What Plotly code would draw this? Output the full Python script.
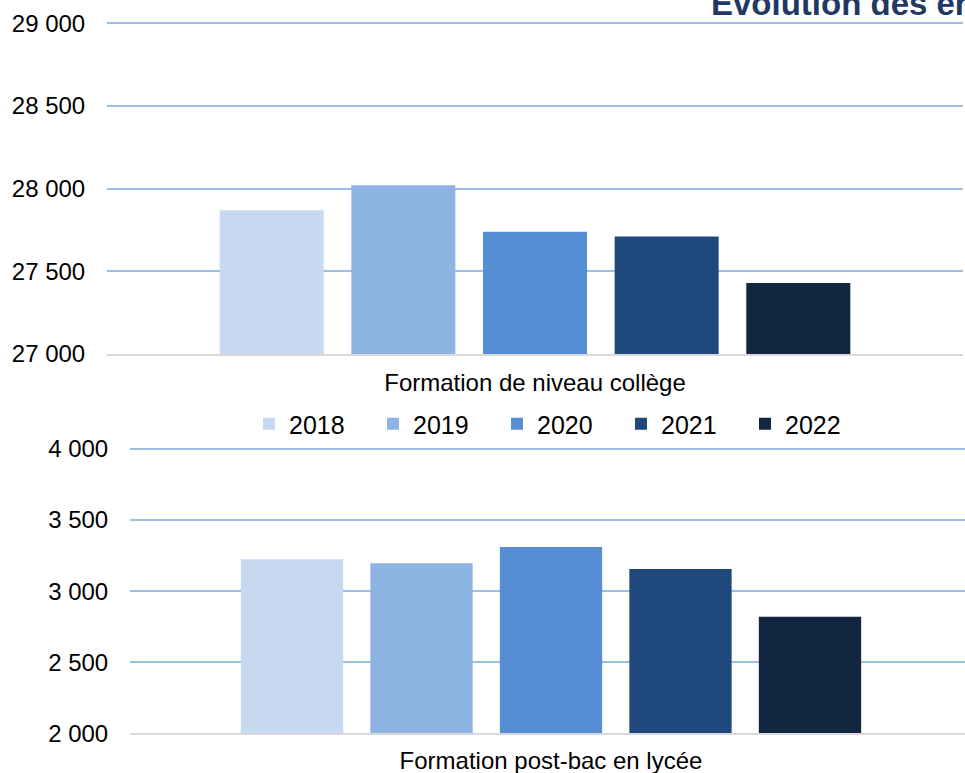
import plotly.graph_objects as go

# Effectifs par année de rentrée
years = ["2018", "2019", "2020", "2021", "2022"]
college = [27869, 28020, 27740, 27710, 27430]
postbac = [3224, 3197, 3311, 3155, 2820]

cat_college = ["Formation de niveau collège"]
cat_postbac = ["Formation post-bac en lycée"]

colors = ["#C6D9F0", "#8EB4E3", "#558ED5", "#1F497D", "#12263F"]

W, H = 965, 773
FONT = "Liberation Sans, Arial, sans-serif"
GRID = "#9BBDE6"
BASE = "#D9D9D9"

fig = go.Figure()
for i, y in enumerate(years):
    fig.add_trace(go.Bar(
        x=cat_college, y=[college[i]], name=y, marker_color=colors[i],
        marker_line_width=0, xaxis="x", yaxis="y", showlegend=True,
    ))
for i, y in enumerate(years):
    fig.add_trace(go.Bar(
        x=cat_postbac, y=[postbac[i]], name=y, marker_color=colors[i],
        marker_line_width=0, xaxis="x2", yaxis="y2", showlegend=False,
    ))

axis_font = dict(family=FONT, size=24, color="#000000")

# a few units of headroom keep the top gridline from being clipped
top_range = [27000, 29018]
bot_range = [2000, 4021]

fig.update_layout(
    width=W, height=H, autosize=False,
    margin=dict(l=0, r=0, t=0, b=0, autoexpand=False),
    paper_bgcolor="white", plot_bgcolor="white",
    barmode="group", bargap=0.231, bargroupgap=0.21,
    font=dict(family=FONT, color="#000000"),
    xaxis=dict(
        domain=[107 / W, 963 / W], anchor="y", type="category",
        showgrid=False, showline=True, linecolor=BASE, linewidth=2,
        ticks="outside", ticklen=6, tickcolor="rgba(0,0,0,0)",
        tickfont=dict(family=FONT, size=24, color="#000000"),
        fixedrange=True,
    ),
    yaxis=dict(
        domain=[1 - 354 / H, 1 - 20.3 / H], anchor="x",
        range=top_range, tickvals=[27000, 27500, 28000, 28500, 29000],
        ticktext=["27 000", "27 500", "28 000", "28 500", "29 000"],
        showgrid=True, gridcolor=GRID, gridwidth=2, zeroline=False,
        showline=False, ticks="outside", ticklen=16,
        tickcolor="rgba(0,0,0,0)", tickfont=axis_font, fixedrange=True,
    ),
    xaxis2=dict(
        domain=[130 / W, 1.0], anchor="y2", type="category",
        range=[-0.5, 0.4917],
        showgrid=False, showline=True, linecolor=BASE, linewidth=2,
        ticks="outside", ticklen=5, tickcolor="rgba(0,0,0,0)",
        tickfont=dict(family=FONT, size=24, color="#000000"),
        fixedrange=True,
    ),
    yaxis2=dict(
        domain=[1 - 733.3 / H, 1 - 446 / H], anchor="x2",
        range=bot_range, tickvals=[2000, 2500, 3000, 3500, 4000],
        ticktext=["2 000", "2 500", "3 000", "3 500", "4 000"],
        showgrid=True, gridcolor=GRID, gridwidth=2, zeroline=False,
        showline=False, ticks="outside", ticklen=16,
        tickcolor="rgba(0,0,0,0)", tickfont=axis_font, fixedrange=True,
    ),
    legend=dict(
        orientation="h", x=249 / W, xanchor="left",
        y=1 - 424 / H, yanchor="middle",
        entrywidth=79, entrywidthmode="pixels",
        font=dict(family=FONT, size=25, color="#000000"),
        bgcolor="rgba(0,0,0,0)", traceorder="normal",
        itemclick=False, itemdoubleclick=False,
    ),
    annotations=[dict(
        text="<b>Évolution des en</b>", xref="paper", yref="paper",
        x=709 / W, xanchor="left", y=1 - 3 / H, yanchor="middle",
        showarrow=False, font=dict(family=FONT, size=33, color="#1F3864"),
    )],
)

fig.write_html("out.html")
